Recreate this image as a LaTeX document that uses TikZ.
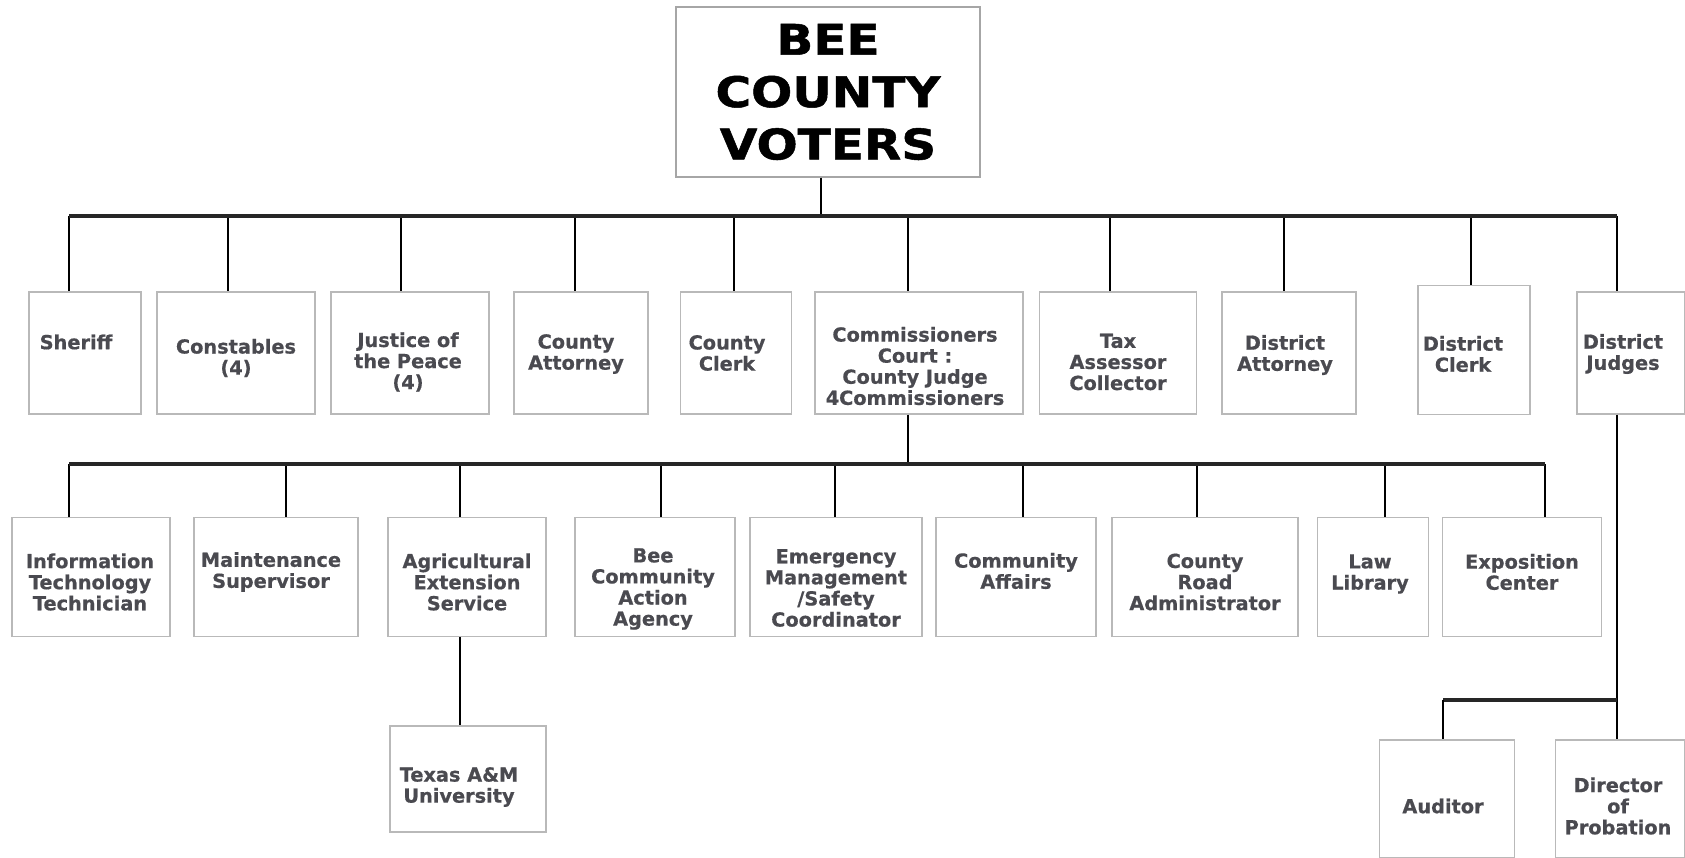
\documentclass[tikz,border=0pt]{standalone}
\usepackage{fontspec}
\setmainfont{DejaVu Sans}
\newfontfamily\titlefont[FakeStretch=1.15, FakeBold=1.2]{DejaVu Sans Bold}
\newfontfamily\boxfont[FakeBold=0.6]{DejaVu Sans Bold}
\definecolor{inkgray}{HTML}{4A4A50}
\tikzset{
  unit/.style={draw=gray!55, line width=0.8pt, fill=white, inner sep=0pt},
  wh/.style 2 args={minimum width=#1*0.02cm, minimum height=#2*0.02cm},
  lbl/.style={align=center, inner sep=0pt, text=inkgray, font=\boxfont\fontsize{11}{12}\selectfont},
  say/.style n args={3}{label={[lbl, xshift=#1*0.02cm, yshift=-#2*0.02cm]center:{#3}}},
  bar/.style={line width=2.5pt, black!85},
  stem/.style={line width=1.6pt, black},
}

\begin{document}
\begin{tikzpicture}[x=0.02cm, y=-0.02cm]
\useasboundingbox (0,0) rectangle (1685,858);

% Voters
\node[unit, wh={304}{170}, draw=gray!70, align=center, text=black,
  font=\titlefont\fontsize{24}{29.8}\selectfont] (voters) at (828,92) {BEE\\COUNTY\\VOTERS};

% Elected offices
\node[unit, wh={112}{122}, say={-9}{-11}{Sheriff}] (sheriff) at (85,353) {};
\node[unit, wh={158}{122}, say={0}{5}{Constables\\(4)}] (constables) at (236,353) {};
\node[unit, wh={158}{122}, say={-2}{9}{Justice of\\the Peace\\(4)}] (justice) at (410,353) {};
\node[unit, wh={134}{122}, say={-5}{1}{County\\Attorney}] (cattorney) at (581,353) {};
\node[unit, wh={111}{122}, say={-9}{0}{County\\Clerk}] (cclerk) at (736,353) {};
\node[unit, wh={208}{122}, say={-4}{13}{Commissioners\\Court :\\County Judge\\4Commissioners}] (court) at (919,353) {};
\node[unit, wh={157}{122}, say={0}{9}{Tax\\Assessor\\Collector}] (tax) at (1118,353) {};
\node[unit, wh={134}{122}, say={-4}{2}{District\\Attorney}] (dattorney) at (1289,353) {};
\node[unit, wh={112}{129}, say={-11}{4}{District\\Clerk}] (dclerk) at (1474,350) {};
\node[unit, wh={108}{122}, say={-8}{1}{District\\Judges}] (djudges) at (1631,353) {};

% Departments under the court
\node[unit, wh={158}{119}, say={-1}{5}{Information\\Technology\\Technician}] (it) at (91,577) {};
\node[unit, wh={164}{119}, say={-5}{-5}{Maintenance\\Supervisor}] (maint) at (276,577) {};
\node[unit, wh={158}{119}, say={0}{5}{Agricultural\\Extension\\Service}] (agri) at (467,577) {};
\node[unit, wh={160}{119}, say={-2}{12}{Bee\\Community\\Action\\Agency}] (bee) at (655,577) {};
\node[unit, wh={172}{119}, say={0}{11}{Emergency\\Management\\/Safety\\Coordinator}] (emerg) at (836,577) {};
\node[unit, wh={160}{119}, say={0}{-6}{Community\\Affairs}] (caffairs) at (1016,577) {};
\node[unit, wh={186}{119}, say={0}{5}{County\\Road\\Administrator}] (road) at (1205,577) {};
\node[unit, wh={111}{119}, say={-3}{-3}{Law\\Library}] (law) at (1373,577) {};
\node[unit, wh={159}{119}, say={0}{-5}{Exposition\\Center}] (expo) at (1522,577) {};

% Lower level
\node[unit, wh={156}{106}, say={-9}{8}{Texas A\&M\\University}] (texas) at (468,779) {};
\node[unit, wh={135}{118}, say={-4}{7}{Auditor}] (auditor) at (1447,799) {};
\node[unit, wh={129}{118}, say={-2}{7}{Director\\of\\Probation}] (probation) at (1620,799) {};

% Top level lines
\foreach \n/\x in {sheriff/69, constables/228, justice/401, cattorney/575, cclerk/734,
    court/908, tax/1110, dattorney/1284, dclerk/1471, djudges/1617}{
  \coordinate (t-\n) at (\x,216);
  \draw[stem] (t-\n) -- (t-\n |- \n.north);
}
\coordinate (t-voters) at (821,216);
\draw[stem] (t-voters |- voters.south) -- (t-voters);
\draw[bar] (t-sheriff) -- (t-djudges);

% Court lines
\foreach \n/\x in {it/69, maint/286, agri/460, bee/661, emerg/835,
    caffairs/1023, road/1197, law/1385, expo/1545}{
  \coordinate (m-\n) at (\x,464);
  \draw[stem] (m-\n) -- (m-\n |- \n.north);
}
\draw[stem] (t-court |- court.south) -- (t-court |- m-it);
\draw[bar] (m-it) -- (m-expo);
\draw[stem] (m-agri |- agri.south) -- (m-agri |- texas.north);

% District judges lines
\coordinate (p-auditor) at (1443,700);
\draw[stem] (t-djudges |- djudges.south) -- (t-djudges |- probation.north);
\draw[bar] (p-auditor) -- (p-auditor -| t-djudges);
\draw[stem] (p-auditor) -- (p-auditor |- auditor.north);

\end{tikzpicture}
\end{document}
